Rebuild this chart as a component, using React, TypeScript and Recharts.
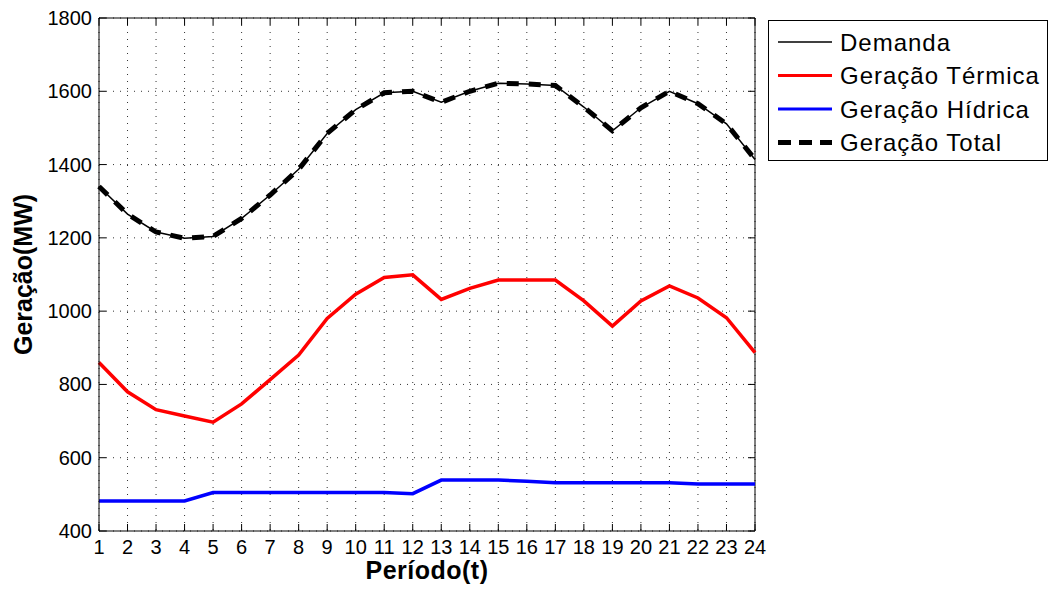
import {
  CartesianGrid,
  Legend,
  Line,
  LineChart,
  ReferenceLine,
  XAxis,
  YAxis,
} from "recharts";

const periodos = [
  1, 2, 3, 4, 5, 6, 7, 8, 9, 10, 11, 12, 13, 14, 15, 16, 17, 18, 19, 20, 21, 22, 23, 24,
];
const demanda = [
  1340, 1265, 1216, 1199, 1204, 1253, 1317, 1387, 1485, 1550, 1596, 1600, 1570, 1600, 1622,
  1620, 1616, 1557, 1492, 1555, 1600, 1566, 1511, 1414,
];
const geracaoTermica = [
  860, 780, 731, 714, 697, 747, 813, 880, 980, 1046, 1092, 1099, 1032, 1062, 1085, 1085, 1085,
  1028, 959, 1028, 1069, 1036, 982, 887,
];
const geracaoHidrica = [
  482, 482, 482, 482, 505, 505, 505, 505, 505, 505, 505, 502, 539, 539, 539, 536, 532, 532, 532,
  532, 532, 528, 528, 528,
];
const geracaoTotal = [
  1340, 1265, 1216, 1199, 1204, 1253, 1317, 1387, 1485, 1550, 1596, 1600, 1570, 1600, 1622,
  1620, 1616, 1557, 1492, 1555, 1600, 1566, 1511, 1414,
];
const yTicks = [400, 600, 800, 1000, 1200, 1400, 1600, 1800];

const data = periodos.map((p, i) => ({
  periodo: p,
  demanda: demanda[i],
  termica: geracaoTermica[i],
  hidrica: geracaoHidrica[i],
  total: geracaoTotal[i],
}));

const series = [
  { key: "demanda", name: "Demanda", color: "#000000", width: 1.5, dash: undefined, legendDash: undefined, legendWidth: 1.5 },
  { key: "termica", name: "Geração Térmica", color: "#ff0000", width: 3.5, dash: undefined, legendDash: undefined, legendWidth: 3 },
  { key: "hidrica", name: "Geração Hídrica", color: "#0000ff", width: 3.5, dash: undefined, legendDash: undefined, legendWidth: 3 },
  { key: "total", name: "Geração Total", color: "#000000", width: 5, dash: "12 10", legendDash: "13 8", legendWidth: 5 },
];

// plot box (MATLAB style frame with inward ticks)
const TOP = 18;
const BOTTOM = 531;
const LEFT = 99;
const RIGHT = 755;
const TICK = 7;

function XTick({ x, payload }: any) {
  return (
    <g>
      <line x1={x} x2={x} y1={BOTTOM} y2={BOTTOM - TICK} stroke="#000" />
      <line x1={x} x2={x} y1={TOP} y2={TOP + TICK} stroke="#000" />
      <text x={x} y={554} textAnchor="middle" fontSize={20} fill="#000">
        {payload.value}
      </text>
    </g>
  );
}

function YTick({ x, y, payload }: any) {
  return (
    <g>
      <line x1={LEFT} x2={LEFT + TICK} y1={y} y2={y} stroke="#000" />
      <line x1={RIGHT} x2={RIGHT - TICK} y1={y} y2={y} stroke="#000" />
      <text x={x} y={y} dy="0.35em" textAnchor="end" fontSize={20} fill="#000">
        {payload.value}
      </text>
    </g>
  );
}

function LegendBox() {
  return (
    <div
      style={{
        width: 280,
        height: 141,
        border: "1.5px solid #000",
        boxSizing: "border-box",
        background: "#fff",
      }}
    >
      <svg width={277} height={138}>
        {series.map((s, i) => {
          const y = 21 + i * 33.5;
          return (
            <g key={s.key}>
              <line
                x1={9}
                x2={63}
                y1={y}
                y2={y}
                stroke={s.color}
                strokeWidth={s.legendWidth}
                strokeDasharray={s.legendDash}
              />
              <text x={71} y={y + 8.5} fontSize={24} letterSpacing={1} fill="#000">
                {s.name}
              </text>
            </g>
          );
        })}
      </svg>
    </div>
  );
}

export default function App() {
  return (
    <div
      style={{
        position: "absolute",
        left: 0,
        top: 0,
        width: 1049,
        height: 592,
        background: "#fff",
        fontFamily: "'Liberation Sans', Arial, sans-serif",
      }}
    >
      <LineChart
        width={1049}
        height={592}
        data={data}
        margin={{ top: TOP, right: 1049 - RIGHT, left: 0, bottom: 31 }}
      >
        <CartesianGrid stroke="#333" strokeDasharray="1 6" />
        <XAxis
          dataKey="periodo"
          type="number"
          domain={[1, 24]}
          ticks={periodos}
          interval={0}
          height={30}
          tickSize={0}
          tickMargin={0}
          tickLine={false}
          axisLine={{ stroke: "#000" }}
          tick={<XTick />}
          label={{
            value: "Período(t)",
            position: "bottom",
            offset: 0,
            style: { fontWeight: "bold", fontSize: 25, fill: "#000", letterSpacing: 0.5 },
          }}
        />
        <YAxis
          type="number"
          domain={[400, 1800]}
          ticks={yTicks}
          interval={0}
          width={LEFT}
          tickSize={0}
          tickMargin={7}
          tickLine={false}
          axisLine={{ stroke: "#000" }}
          tick={<YTick />}
          label={{
            value: "Geração(MW)",
            angle: -90,
            position: "insideLeft",
            offset: 23,
            style: { textAnchor: "middle", fontWeight: "bold", fontSize: 25, fill: "#000" },
          }}
        />
        <ReferenceLine y={1800} stroke="#000" />
        <ReferenceLine x={24} stroke="#000" />
        {series.map((s) => (
          <Line
            key={s.key}
            dataKey={s.key}
            name={s.name}
            stroke={s.color}
            strokeWidth={s.width}
            strokeDasharray={s.dash}
            dot={false}
            activeDot={false}
            isAnimationActive={false}
          />
        ))}
        <Legend
          layout="vertical"
          align="center"
          verticalAlign="middle"
          content={<LegendBox />}
          wrapperStyle={{ left: 768, top: 20, width: 280, height: 141 }}
        />
      </LineChart>
    </div>
  );
}
